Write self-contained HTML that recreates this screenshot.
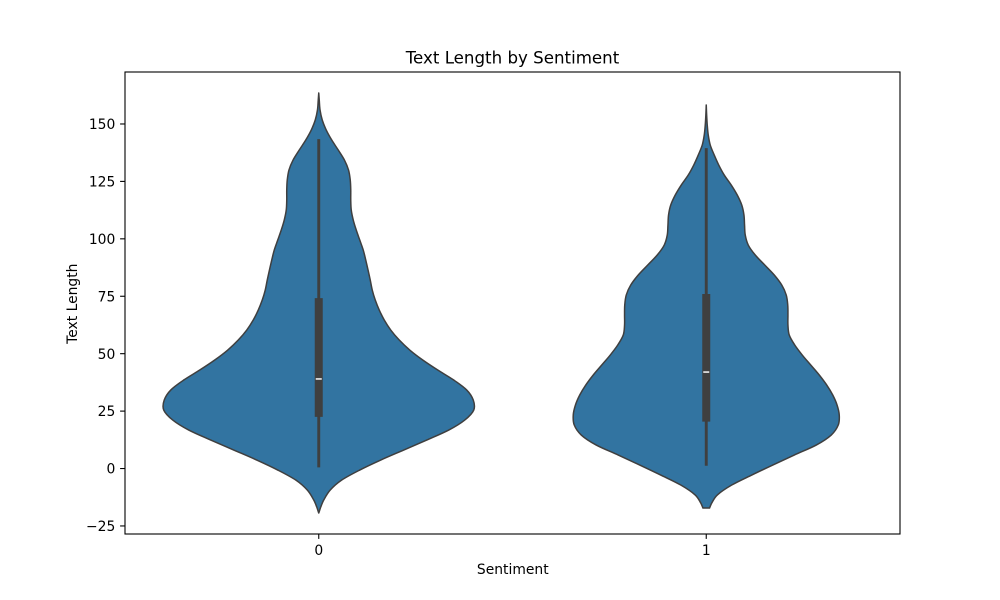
<!DOCTYPE html>
<html>
<head>
<meta charset="utf-8">
<title>Text Length by Sentiment</title>
<style>
html,body{margin:0;padding:0;background:#fff;width:1000px;height:600px;overflow:hidden}
svg{display:block}
text{font-family:"DejaVu Sans","Liberation Sans",sans-serif;fill:#000}
</style>
</head>
<body>
<svg id="chart" width="1000" height="600" viewBox="0 0 1000 600" xmlns="http://www.w3.org/2000/svg">
<rect x="0" y="0" width="1000" height="600" fill="#fff"></rect>
<text x="512.5" y="63.5" font-size="16.67" text-anchor="middle">Text Length by Sentiment</text>
<text x="512.8" y="574" font-size="13.89" text-anchor="middle">Sentiment</text>
<text x="0" y="0" transform="translate(77,303.7) rotate(-90)" font-size="13.89" text-anchor="middle">Text Length</text>
<g id="marks"></g>
<g id="axes"></g>
</svg>
<script>
const categories = ['0', '1'];
const yTickValues = [-25, 0, 25, 50, 75, 100, 125, 150];
const yTickLabels = ['\u221225', '0', '25', '50', '75', '100', '125', '150'];

const gridSentiment0 = [163.47,160.42,156.07,151.72,147.36,143.01,138.66,134.30,129.95,125.60,121.24,116.89,112.54,108.19,103.83,99.48,95.12,90.77,86.42,82.06,77.71,73.36,69.00,64.65,60.30,55.94,51.59,47.24,42.88,38.53,34.17,29.82,25.47,21.11,16.76,12.41,8.05,3.70,-0.65,-5.01,-9.36,-13.72,-16.76,-19.37];
const densitySentiment0 = [0,0.5,1.3,3.5,7.5,13,19.5,25.7,29.8,31.5,32,32,32.5,34.5,37.5,41,44.5,47,49.3,51.5,53.5,56.5,60.5,65.5,72,80.5,91,104,119,135,148,154.5,155,146,130,108,85,62,41,23,11.5,5,2,0];

const gridSentiment1 = [158.25,153.90,149.54,145.19,140.83,136.48,132.13,127.77,123.42,119.07,114.71,110.36,106.01,101.65,97.30,92.95,88.59,84.24,79.89,75.53,71.18,66.83,62.47,58.12,53.77,49.41,45.06,40.71,36.35,32.00,27.65,23.29,18.94,14.59,10.23,5.88,1.53,-2.83,-7.18,-11.53,-15.02,-17.19];
const densitySentiment1 = [0,0.4,1,2,4,8,12.5,18,25,31,35.5,37.7,38.3,39,42,49,58.5,68,75.5,80,81.5,81.7,81.7,83,88.5,96,104.5,113,120.5,126.5,130.8,133,132,125,110,88,66.5,45.5,25.5,11,5.5,3.3];

const whiskerLow = [0.5, 1.2];
const whiskerHigh = [143.4, 139.5];
const quartile1 = [22.5, 20.4];
const medians = [39, 42];
const quartile3 = [74.2, 76];

const SVGNS = 'http://www.w3.org/2000/svg';
const plot = {left:125, right:900, top:72, bottom:534};
const xDomain = [-0.5, 1.5];
const yDomain = [-28.5, 172.63];
const violinHalfWidth = 0.4;

function xScale(v){ return plot.left + (v - xDomain[0]) / (xDomain[1] - xDomain[0]) * (plot.right - plot.left); }
function yScale(v){ return plot.bottom - (v - yDomain[0]) / (yDomain[1] - yDomain[0]) * (plot.bottom - plot.top); }

function make(parent, tag, attrs){
  const el = document.createElementNS(SVGNS, tag);
  for (const k in attrs) el.setAttribute(k, attrs[k]);
  parent.appendChild(el);
  return el;
}

/* Hermite spline treating x as a function of y, so unevenly spaced knots stay smooth */
function slopeAt(p, i){
  const a = p[Math.max(i - 1, 0)], b = p[Math.min(i + 1, p.length - 1)];
  return (b[0] - a[0]) / (b[1] - a[1]);
}
function smoothSegments(p){
  let d = '';
  for (let i = 0; i < p.length - 1; i++){
    const p1 = p[i], p2 = p[i + 1], h = p2[1] - p1[1];
    const m1 = slopeAt(p, i), m2 = slopeAt(p, i + 1);
    d += 'C' + (p1[0] + m1 * h / 3).toFixed(2) + ' ' + (p1[1] + h / 3).toFixed(2) + ' ' +
      (p2[0] - m2 * h / 3).toFixed(2) + ' ' + (p2[1] - h / 3).toFixed(2) + ' ' +
      p2[0].toFixed(2) + ' ' + p2[1].toFixed(2);
  }
  return d;
}

const marks = document.getElementById('marks');
const axes = document.getElementById('axes');
const grids = [gridSentiment0, gridSentiment1];
const densities = [densitySentiment0, densitySentiment1];
const peakDensity = Math.max(...densities.map(d => Math.max(...d)));

categories.forEach(function(cat, i){
  const grid = grids[i], dens = densities[i];
  const right = grid.map((v, k) => [xScale(i + dens[k] / peakDensity * violinHalfWidth), yScale(v)]);
  const left = grid.map((v, k) => [xScale(i - dens[k] / peakDensity * violinHalfWidth), yScale(v)]).reverse();
  const d = 'M' + right[0][0].toFixed(2) + ' ' + right[0][1].toFixed(2) + smoothSegments(right) +
    'L' + left[0][0].toFixed(2) + ' ' + left[0][1].toFixed(2) + smoothSegments(left) + 'Z';

  const body = make(marks, 'path', {d: d, fill: '#3274a1', stroke: '#3f3f3f', 'stroke-width': 1.5, 'stroke-linejoin': 'round'});
  
  

  const whisker = make(marks, 'line', {x1: xScale(i), x2: xScale(i), y1: yScale(whiskerLow[i]), y2: yScale(whiskerHigh[i]), stroke: '#3f3f3f', 'stroke-width': 2.9});
  
  

  const box = make(marks, 'line', {x1: xScale(i), x2: xScale(i), y1: yScale(quartile1[i]), y2: yScale(quartile3[i]), stroke: '#3f3f3f', 'stroke-width': 8});
  
  

  const med = make(marks, 'line', {x1: xScale(i) - 3, x2: xScale(i) + 3, y1: yScale(medians[i]), y2: yScale(medians[i]), stroke: '#e4e4e4', 'stroke-width': 1.7});
  
  

  const tick = make(axes, 'line', {x1: xScale(i), x2: xScale(i), y1: plot.bottom, y2: plot.bottom + 4.9, stroke: '#000', 'stroke-width': 1.1});
  
  

  const label = make(axes, 'text', {x: xScale(i), y: 555, 'font-size': 13.89, 'text-anchor': 'middle'});
  label.textContent = cat;
  
  
});

yTickValues.forEach(function(v, i){
  const y = yScale(v);
  const tick = make(axes, 'line', {x1: plot.left - 4.9, x2: plot.left, y1: y, y2: y, stroke: '#000', 'stroke-width': 1.1});
  
  

  const label = make(axes, 'text', {x: plot.left - 9.7, y: y + 5.1, 'font-size': 13.89, 'text-anchor': 'end'});
  label.textContent = yTickLabels[i];
  
  
});

const frame = make(axes, 'rect', {x: plot.left, y: plot.top, width: plot.right - plot.left, height: plot.bottom - plot.top, fill: 'none', stroke: '#000', 'stroke-width': 1.1});


</script>
</body>
</html>
